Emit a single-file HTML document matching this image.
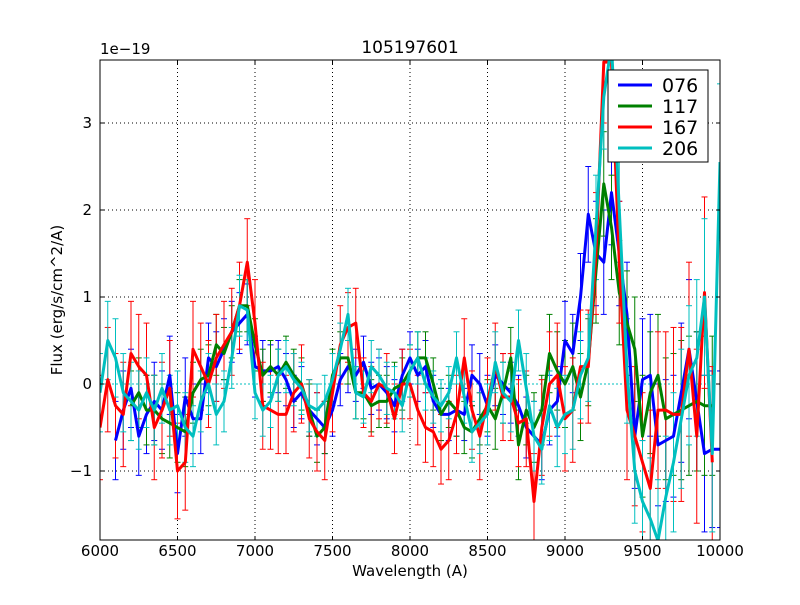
<!DOCTYPE html>
<html><head><meta charset="utf-8"><style>
body{margin:0;background:#fff;font-family:"Liberation Sans","DejaVu Sans",sans-serif}
svg text{font-family:"DejaVu Sans","Liberation Sans",sans-serif}
</style></head><body>
<svg id="chart" width="800" height="600" xmlns="http://www.w3.org/2000/svg">
<rect width="800" height="600" fill="#fff"/>
<defs><clipPath id="clip"><rect x="100" y="60" width="620" height="480"/></clipPath></defs>
<g id="grid"></g>
<g id="series" clip-path="url(#clip)"></g>
<rect x="100" y="60" width="620" height="480" fill="none" stroke="#000" stroke-width="1"/>
<g id="ticks"></g>
<text x="410" y="53" font-size="17" text-anchor="middle">105197601</text>
<text x="100" y="54" font-size="15">1e−19</text>
<text x="410" y="576" font-size="15" text-anchor="middle">Wavelength (A)</text>
<text x="62" y="300" font-size="15" text-anchor="middle" transform="rotate(-90 62 300)">Flux (erg/s/cm^2/A)</text>
<g id="legend"></g>
</svg>
<script>
const wavelengths=[6000,6050,6100,6150,6200,6250,6300,6350,6400,6450,6500,6550,6600,6650,6700,6750,6800,6850,6900,6950,7000,7050,7100,7150,7200,7250,7300,7350,7400,7450,7500,7550,7600,7650,7700,7750,7800,7850,7900,7950,8000,8050,8100,8150,8200,8250,8300,8350,8400,8450,8500,8550,8600,8650,8700,8750,8800,8850,8900,8950,9000,9050,9100,9150,9200,9250,9300,9350,9400,9450,9500,9550,9600,9650,9700,9750,9800,9850,9900,9950,10000];
const seriesNames=["076","117","167","206"];
const seriesColors=["#0000ff","#008000","#ff0000","#00bfbf"];
const flux076=[null,null,-0.65,-0.3,-0.05,-0.6,-0.35,-0.2,-0.3,0.1,-0.8,-0.15,-0.4,-0.4,0.3,0.2,0.4,0.6,0.7,0.8,0.2,0.15,0.15,0.2,0.05,-0.2,-0.1,-0.3,-0.4,-0.5,-0.3,0.05,0.2,0.1,0.25,-0.05,0,-0.1,-0.25,0.1,0.3,0.1,0.2,-0.2,-0.35,-0.35,-0.3,-0.35,0.1,0,-0.25,0.1,0,-0.1,-0.25,-0.5,-0.6,-0.7,-0.3,-0.2,0.5,0.35,1.0,1.95,1.5,1.4,2.2,1.5,0.8,-0.6,0.05,0.1,-0.7,-0.65,-0.6,-0.1,0.4,-0.2,-0.8,-0.75,-0.75];
const flux117=[null,null,null,null,-0.25,-0.1,-0.3,-0.3,-0.4,-0.45,-0.5,-0.55,-0.1,0.05,0.1,0.45,0.35,0.6,0.9,0.9,0.45,0.1,0.2,0.1,0.25,0.1,0,-0.3,-0.6,-0.5,0.1,0.3,0.3,-0.1,-0.1,-0.25,-0.2,-0.2,-0.05,0,0.15,0.3,0.3,0,-0.35,-0.2,-0.3,-0.5,-0.55,-0.4,-0.25,-0.4,-0.1,0.3,-0.7,-0.3,-0.5,-0.3,0.35,0.15,0,0.2,-0.15,0.25,1.3,2.3,1.8,1.05,0.7,0.4,-0.6,-0.1,0.1,-0.4,-0.35,-0.3,-0.25,-0.2,-0.25,-0.25,null];
const flux167=[-0.5,0.05,-0.25,-0.35,0.35,0.2,0.1,-0.5,-0.3,-0.05,-1.0,-0.9,0.4,0.2,0,0.3,0.45,0.6,0.9,1.4,0.7,-0.25,-0.3,-0.35,-0.35,-0.1,0,-0.4,-0.55,-0.65,-0.1,0.45,0.65,0.7,-0.1,-0.2,0,-0.05,-0.4,0,0,-0.3,-0.5,-0.55,-0.75,-0.65,-0.35,0.3,-0.3,-0.6,-0.2,0.2,-0.15,-0.15,-0.45,-0.4,-1.35,-0.5,0,0.1,-0.4,-0.3,0.2,0.2,1.5,3.7,3.7,1.4,-0.3,-0.6,-0.9,-1.2,-0.3,-0.3,-0.35,-0.35,0.4,-0.6,1.05,-0.9,null];
const flux206=[-0.1,0.5,0.3,-0.1,-0.2,-0.3,-0.1,-0.3,-0.05,-0.3,-0.25,-0.5,-0.6,-0.2,0,-0.35,-0.2,0.3,0.9,0.85,-0.1,-0.3,-0.2,0.1,0.2,0.05,-0.05,-0.25,-0.3,-0.2,0.05,0.4,0.8,-0.1,-0.15,0.2,0.1,-0.05,-0.1,-0.25,0.15,0.3,0,-0.15,-0.25,-0.1,0.3,-0.15,-0.55,-0.45,-0.35,0.25,-0.1,-0.2,0.5,-0.05,-0.6,-0.75,-0.25,-0.5,-0.35,-0.3,0.1,0.3,1.8,3.3,3.9,2.0,0.15,-1.0,-1.35,-1.55,-1.8,-1.3,-0.9,-0.4,0.1,0.3,1.0,-0.8,2.55];
const err076=[0,0,0.45,0.45,0.45,0.45,0.45,0.45,0.45,0.45,0.45,0.45,0.4,0.4,0.4,0.4,0.35,0.35,0.35,0.35,0.35,0.35,0.3,0.3,0.3,0.3,0.3,0.3,0.3,0.3,0.3,0.3,0.3,0.3,0.3,0.3,0.3,0.3,0.3,0.3,0.3,0.3,0.3,0.3,0.3,0.3,0.3,0.3,0.35,0.35,0.35,0.35,0.35,0.35,0.35,0.35,0.4,0.4,0.4,0.4,0.45,0.45,0.5,0.55,0.6,0.6,0.6,0.6,0.6,0.6,0.7,0.7,0.7,0.7,0.7,0.8,0.8,0.8,0.9,0.9,0.9];
const err117=[0,0,0,0,0.4,0.4,0.4,0.4,0.4,0.4,0.4,0.4,0.35,0.35,0.35,0.35,0.3,0.3,0.3,0.3,0.3,0.3,0.3,0.3,0.3,0.3,0.3,0.3,0.3,0.3,0.3,0.3,0.3,0.3,0.3,0.3,0.3,0.3,0.3,0.3,0.3,0.3,0.3,0.3,0.3,0.3,0.3,0.3,0.3,0.3,0.3,0.35,0.35,0.35,0.4,0.4,0.4,0.4,0.45,0.45,0.5,0.5,0.5,0.5,0.6,0.6,0.6,0.6,0.6,0.6,0.7,0.7,0.7,0.7,0.7,0.8,0.8,0.8,0.8,0.8,0];
const err167=[0.6,0.6,0.6,0.6,0.6,0.6,0.6,0.6,0.55,0.55,0.55,0.55,0.55,0.5,0.5,0.5,0.5,0.5,0.5,0.5,0.5,0.5,0.45,0.45,0.45,0.45,0.45,0.45,0.45,0.45,0.45,0.45,0.4,0.4,0.4,0.4,0.4,0.4,0.4,0.4,0.4,0.4,0.4,0.4,0.4,0.45,0.45,0.45,0.45,0.5,0.5,0.5,0.5,0.5,0.5,0.55,0.55,0.55,0.6,0.6,0.6,0.6,0.65,0.65,0.7,0.7,0.7,0.7,0.8,0.8,0.8,0.9,0.9,0.9,1.0,1.0,1.0,1.0,1.1,1.1,0];
const err206=[0.45,0.45,0.45,0.45,0.45,0.45,0.4,0.4,0.4,0.4,0.4,0.4,0.35,0.35,0.35,0.35,0.35,0.35,0.35,0.35,0.3,0.3,0.3,0.3,0.3,0.3,0.3,0.3,0.3,0.3,0.3,0.3,0.3,0.3,0.3,0.3,0.3,0.3,0.3,0.3,0.3,0.3,0.3,0.3,0.3,0.3,0.3,0.3,0.35,0.35,0.35,0.35,0.35,0.35,0.35,0.4,0.4,0.4,0.4,0.45,0.45,0.45,0.5,0.5,0.6,0.6,0.6,0.6,0.6,0.6,0.7,0.7,0.7,0.7,0.8,0.8,0.8,0.9,0.9,0.9,0.9];
const xTicks=[6000,6500,7000,7500,8000,8500,9000,9500,10000];
const yTicks=[-1,0,1,2,3];
const yTickLabels=["−1","0","1","2","3"];

const NS="http://www.w3.org/2000/svg";
const X0=100,X1=720,Y0=540,Y1=60,XMIN=6000,XMAX=10000,YMIN=-1.7931,YMAX=3.7241;
function xs(v){return X0+(v-XMIN)/(XMAX-XMIN)*(X1-X0);}
function ys(v){return Y0-(v-YMIN)/(YMAX-YMIN)*(Y0-Y1);}
function mk(tag,attrs,parent){const e=document.createElementNS(NS,tag);for(const k in attrs)e.setAttribute(k,attrs[k]);parent.appendChild(e);return e;}
const grid=document.getElementById('grid'),ticks=document.getElementById('ticks'),ser=document.getElementById('series'),leg=document.getElementById('legend');
xTicks.forEach(t=>{const x=xs(t);
 const g=mk('line',{x1:x,x2:x,y1:Y1,y2:Y0,stroke:'#000','stroke-dasharray':'1,3'},grid);
 
 
 mk('line',{x1:x,x2:x,y1:Y0,y2:Y0-4,stroke:'#000'},ticks);
 mk('line',{x1:x,x2:x,y1:Y1,y2:Y1+4,stroke:'#000'},ticks);
 const tx=mk('text',{x:x,y:Y0+16,'font-size':15,'text-anchor':'middle'},ticks);tx.textContent=t;
 
 
});
yTicks.forEach((t,i)=>{const y=ys(t);
 const g=mk('line',{x1:X0,x2:X1,y1:y,y2:y,stroke:'#000','stroke-dasharray':'1,3'},grid);
 
 
 mk('line',{x1:X0,x2:X0+4,y1:y,y2:y,stroke:'#000'},ticks);
 mk('line',{x1:X1,x2:X1-4,y1:y,y2:y,stroke:'#000'},ticks);
 const tx=mk('text',{x:X0-8,y:y+5,'font-size':15,'text-anchor':'end'},ticks);tx.textContent=yTickLabels[i];
 
 
});
const fluxes=[flux076,flux117,flux167,flux206],errs=[err076,err117,err167,err206];
fluxes.forEach((f,s)=>{const c=seriesColors[s];
 const z=mk('line',{x1:X0,x2:X1,y1:ys(0),y2:ys(0),stroke:c,'stroke-dasharray':'2,2','stroke-width':1},ser);
 
 
});
fluxes.forEach((f,s)=>{const c=seriesColors[s];
 const g=mk('g',{},ser);
 
 
 f.forEach((v,i)=>{if(v===null)return;const e=errs[s][i],x=xs(wavelengths[i]),ya=ys(v+e),yb=ys(v-e);
  mk('line',{x1:x,x2:x,y1:ya,y2:yb,stroke:c,'stroke-width':1},g);
  mk('line',{x1:x-3,x2:x+3,y1:ya,y2:ya,stroke:c,'stroke-width':1},g);
  mk('line',{x1:x-3,x2:x+3,y1:yb,y2:yb,stroke:c,'stroke-width':1},g);
 });
});
fluxes.forEach((f,s)=>{let d='',pen=false;
 f.forEach((v,i)=>{if(v===null){pen=false;return;}d+=(pen?'L':'M')+xs(wavelengths[i]).toFixed(1)+','+ys(v).toFixed(1);pen=true;});
 const p=mk('path',{d:d,fill:'none',stroke:seriesColors[s],'stroke-width':3,'stroke-linejoin':'round'},ser);
 
 
});
mk('rect',{x:608,y:70,width:100,height:92,fill:'#fff',stroke:'#000'},leg);
seriesNames.forEach((n,i)=>{const y=85+i*21;
 const e=mk('g',{},leg);
 
 
 mk('line',{x1:618,x2:652,y1:y,y2:y,stroke:seriesColors[i],'stroke-width':3},e);
 const t=mk('text',{x:662,y:y+7,'font-size':19},e);t.textContent=n;
});
</script>
</body></html>
